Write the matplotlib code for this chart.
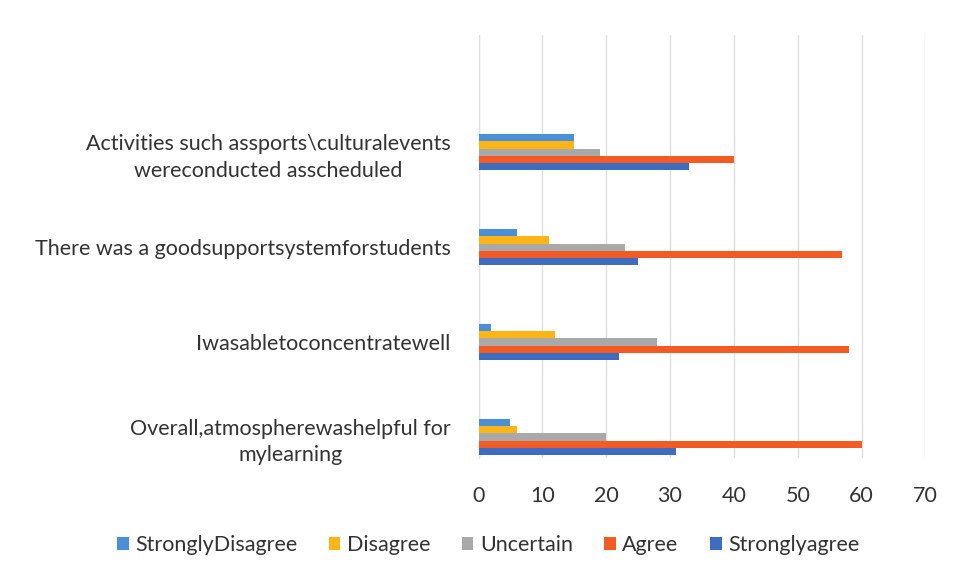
import matplotlib.pyplot as plt
import numpy as np

plt.rcParams['font.family'] = ['Lato', 'DejaVu Sans']

categories = ["Overall,atmospherewashelpful for\nmylearning",
              "Iwasabletoconcentratewell",
              "There was a goodsupportsystemforstudents",
              "Activities such assports\\culturalevents\nwereconducted asscheduled"]

# series drawn bottom to top inside each group
series_names = ["Stronglyagree", "Agree", "Uncertain", "Disagree", "StronglyDisagree"]
strongly_agree = [31, 22, 25, 33]
agree = [60, 58, 57, 40]
uncertain = [20, 28, 23, 19]
disagree = [6, 12, 11, 15]
strongly_disagree = [5, 2, 6, 15]
series_values = [strongly_agree, agree, uncertain, disagree, strongly_disagree]
colors = ["#3E6CC0", "#F25C24", "#A9A9A9", "#FDB515", "#4A8FD8"]

fig, ax = plt.subplots(figsize=(9.57, 5.78), dpi=100)
fig.subplots_adjust(left=0.5, right=0.967, top=0.94, bottom=0.208)

y = np.arange(len(categories))
h = 0.076
bars = []
for i, (name, vals, c) in enumerate(zip(series_names, series_values, colors)):
    b = ax.barh(y + (i - 2) * h, vals, height=h, color=c, label=name, zorder=3)
    bars.append(b)

ax.set_xlim(0, 70)
ax.set_ylim(-0.22, 4.24)
ax.set_xticks(range(0, 71, 10))
ax.set_yticks(y)
ax.set_yticklabels(categories, fontsize=15.5, color="#333333")
for t in ax.get_yticklabels():
    t.set_multialignment("center")
    t.set_linespacing(1.4)
ax.tick_params(axis="x", labelsize=15.5, labelcolor="#333333", length=0, pad=20)
ax.tick_params(axis="y", length=0, pad=20)
ax.grid(axis="x", color="#dedee3", linewidth=1, zorder=0)
for s in ["top", "right", "bottom"]:
    ax.spines[s].set_visible(False)
ax.spines["left"].set_color("#dedee3")

handles = bars[::-1]
ax.legend(handles, series_names[::-1], loc="center", bbox_to_anchor=(0.51, 0.057),
          bbox_transform=fig.transFigure, ncol=5, frameon=False, fontsize=15.5,
          handlelength=0.55, handleheight=0.55, handletextpad=0.3, columnspacing=1.45,
          labelcolor="#333333")

fig.savefig("out.png")
